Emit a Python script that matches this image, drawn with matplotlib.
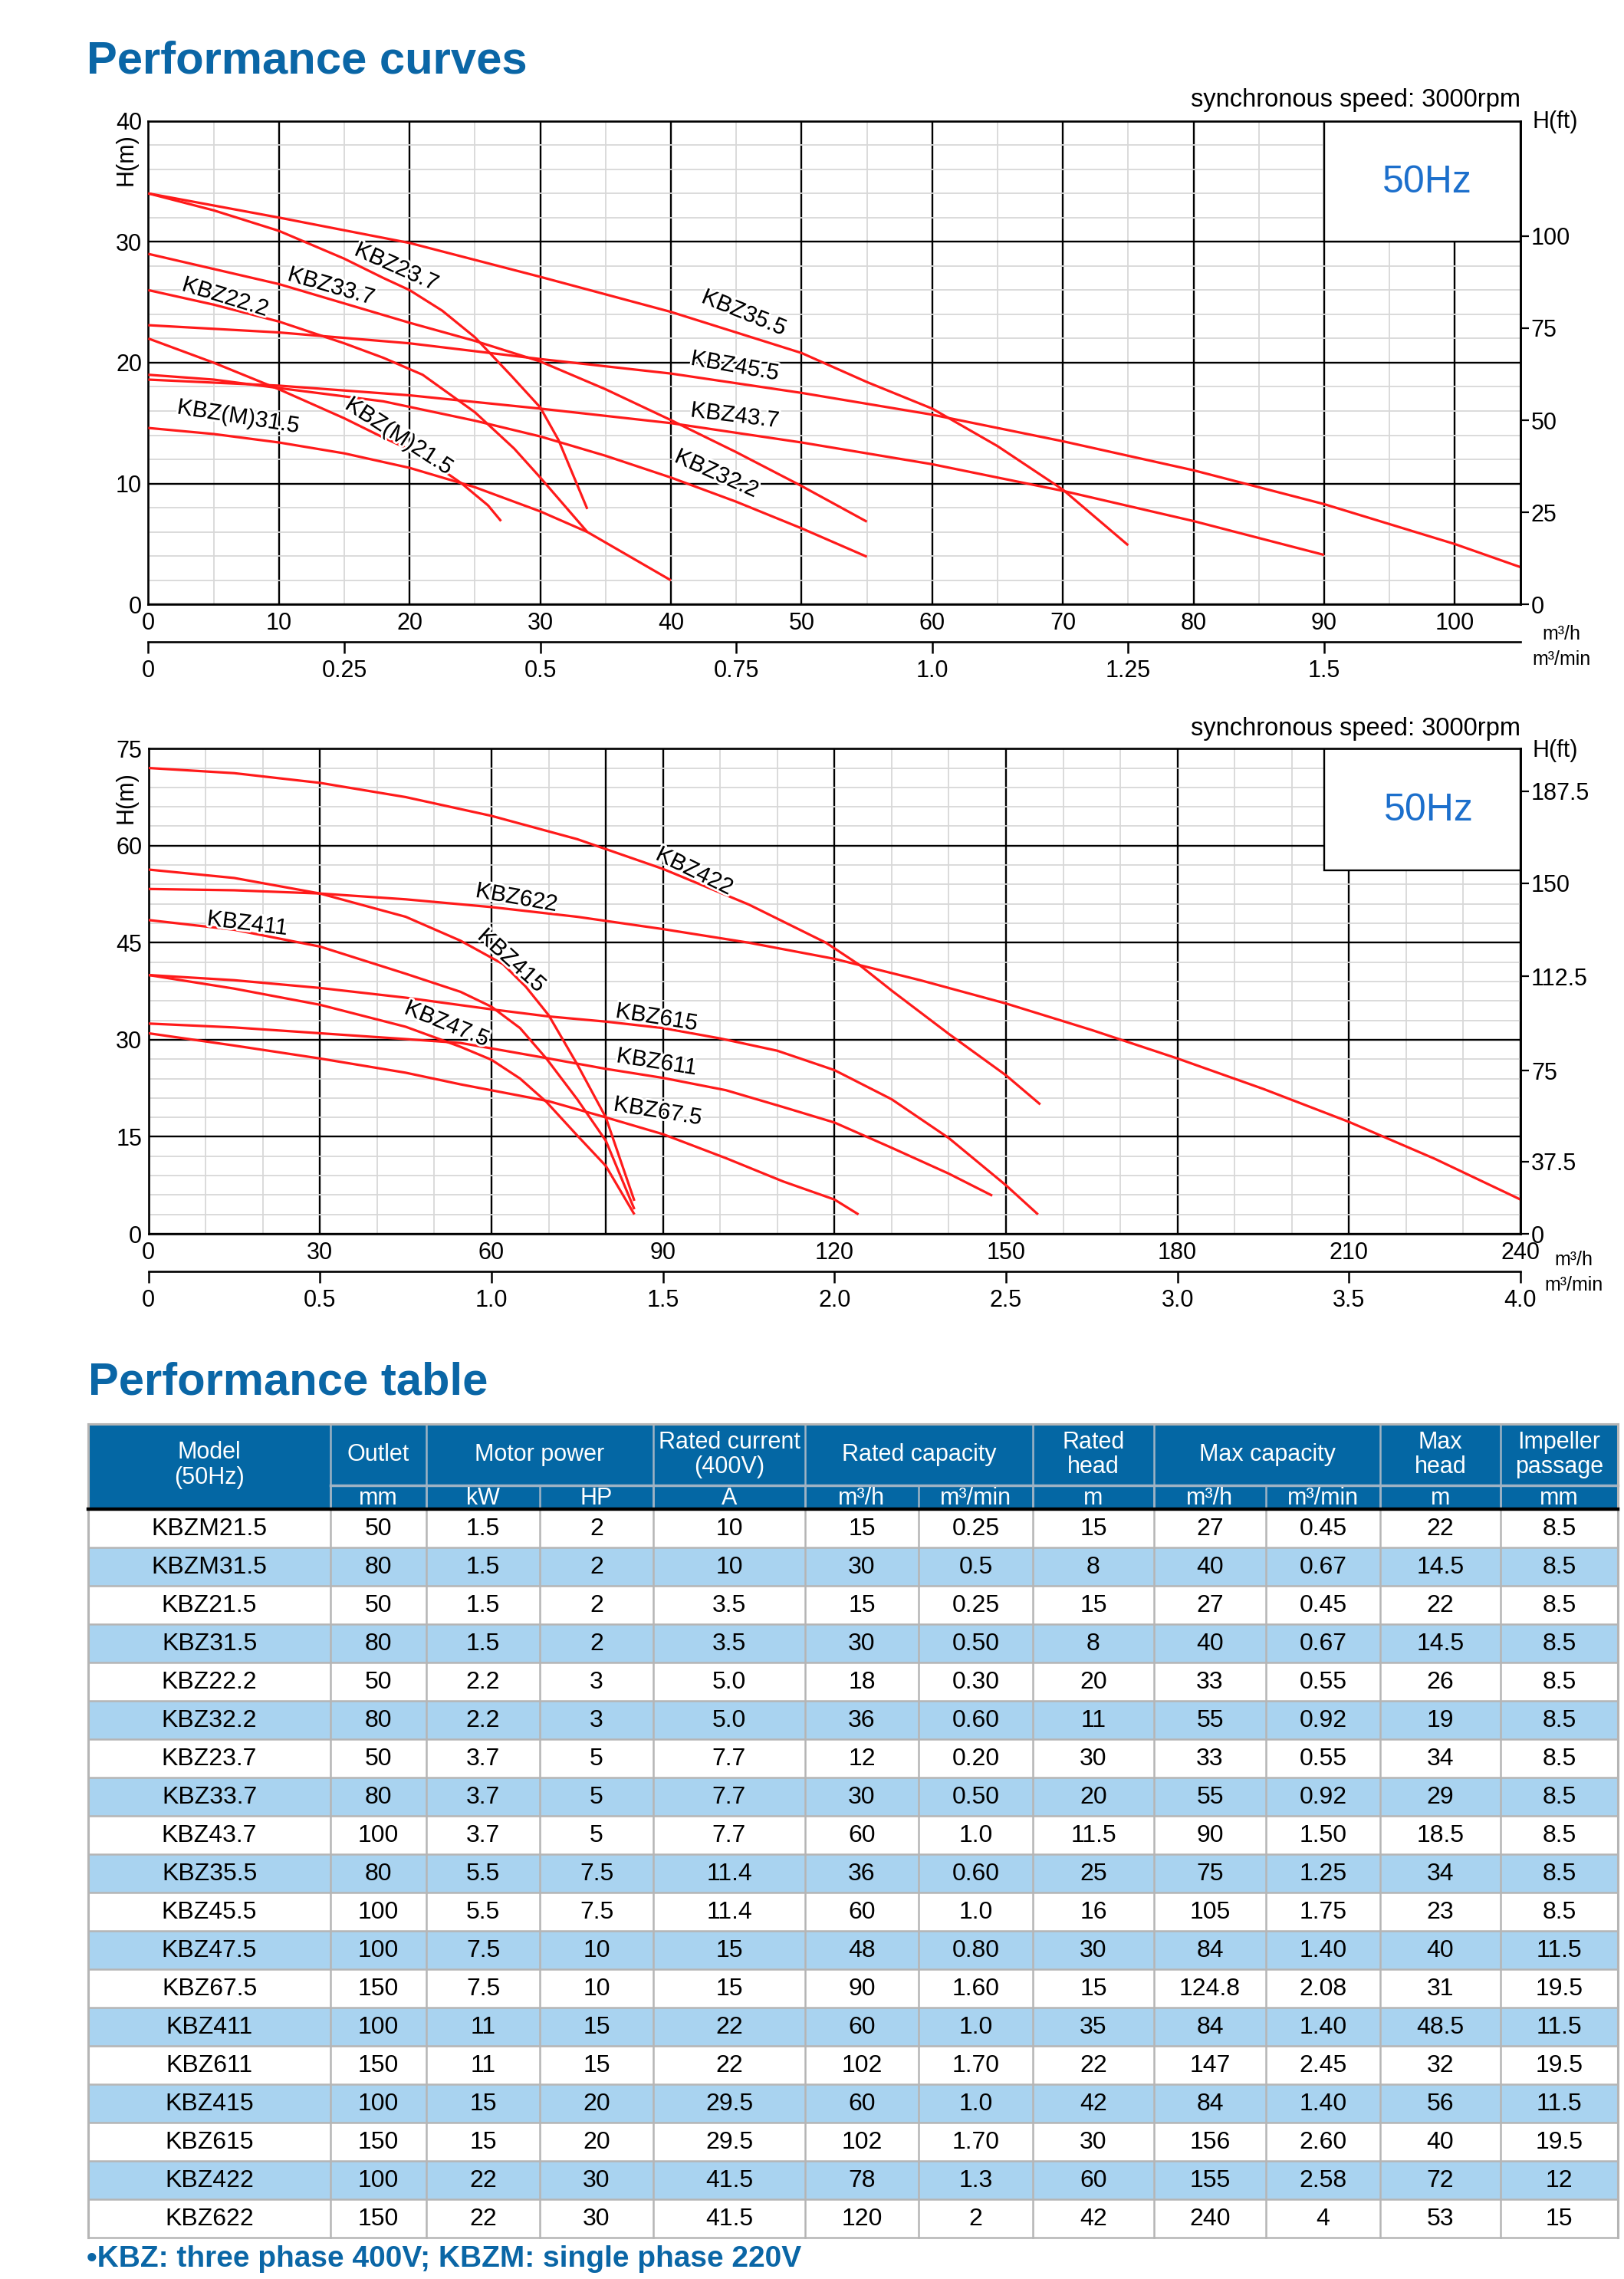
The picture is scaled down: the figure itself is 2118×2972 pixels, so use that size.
import matplotlib
matplotlib.use('Agg')
import matplotlib.pyplot as plt
from matplotlib.patches import Rectangle
import matplotlib.patheffects as pe

plt.rcParams['font.family'] = ['Liberation Sans', 'DejaVu Sans']

# ---------------- data: top chart (Q m3/h, H m) ----------------
kbz35_5_q = [0, 10, 20, 30, 40, 50, 55, 60, 65, 70, 75]
kbz35_5_h = [34, 32.0, 29.9, 27.1, 24.2, 20.8, 18.4, 16.2, 13.1, 9.5, 4.9]
kbz23_7_q = [0, 5, 10, 15, 18, 20, 22.5, 25, 27.8, 30, 31.4, 33.6]
kbz23_7_h = [34, 32.6, 30.9, 28.6, 27.0, 26.0, 24.3, 22.1, 18.9, 16.3, 13.6, 7.9]
kbz33_7_q = [0, 10, 20, 25, 30, 35, 40, 45, 50, 55]
kbz33_7_h = [29, 26.5, 23.3, 21.8, 20.1, 17.8, 15.25, 12.6, 9.8, 6.85]
kbz22_2_q = [0, 5, 10, 15, 18, 21, 25, 28, 30, 33.6]
kbz22_2_h = [26, 24.8, 23.4, 21.6, 20.4, 19.0, 15.9, 12.9, 10.5, 6.0]
kbzm21_5_q = [0, 5, 10, 15, 18, 20, 22, 24, 26, 27]
kbzm21_5_h = [22, 20.0, 17.8, 15.4, 13.8, 12.8, 11.5, 10.0, 8.2, 6.9]
kbzm31_5_q = [0, 5, 10, 15, 20, 25, 30, 33.6, 40]
kbzm31_5_h = [14.6, 14.1, 13.4, 12.5, 11.3, 9.7, 7.7, 6.0, 2.0]
kbz43_7_q = [0, 10, 20, 30, 40, 50, 60, 70, 80, 90]
kbz43_7_h = [18.6, 18.1, 17.3, 16.2, 15.0, 13.4, 11.6, 9.4, 6.9, 4.1]
kbz32_2_q = [0, 5, 10, 18, 25, 30, 35, 40, 45, 50, 55]
kbz32_2_h = [19, 18.6, 17.9, 16.8, 15.2, 13.9, 12.3, 10.5, 8.5, 6.3, 3.95]
kbz45_5_q = [0, 10, 20, 30, 40, 50, 60, 70, 80, 90, 100, 105]
kbz45_5_h = [23.1, 22.5, 21.6, 20.3, 19.1, 17.5, 15.7, 13.5, 11.1, 8.3, 5.0, 3.1]

top_curves = [(kbz35_5_q, kbz35_5_h), (kbz23_7_q, kbz23_7_h), (kbz33_7_q, kbz33_7_h),
              (kbz22_2_q, kbz22_2_h), (kbzm21_5_q, kbzm21_5_h), (kbzm31_5_q, kbzm31_5_h),
              (kbz43_7_q, kbz43_7_h), (kbz32_2_q, kbz32_2_h), (kbz45_5_q, kbz45_5_h)]
top_labels = ['KBZ23.7', 'KBZ33.7', 'KBZ22.2', 'KBZ35.5', 'KBZ45.5', 'KBZ43.7',
              'KBZ32.2', 'KBZ(M)31.5', 'KBZ(M)21.5']
top_label_x = [19.0, 14.0, 5.9, 45.6, 44.9, 44.9, 43.5, 6.9, 19.2]
top_label_y = [27.9, 26.3, 25.4, 24.1, 19.7, 15.6, 10.8, 15.5, 13.9]
top_label_rot = [-24, -16, -17, -22, -10, -7, -24, -9, -33]

top_q_ticks = [0, 10, 20, 30, 40, 50, 60, 70, 80, 90, 100]
top_h_ticks = [0, 10, 20, 30, 40]
top_ft_labels = ['0', '25', '50', '75', '100']
top_ft_values = [0, 25, 50, 75, 100]
top_min_labels = ['0', '0.25', '0.5', '0.75', '1.0', '1.25', '1.5']
top_min_values = [0, 0.25, 0.5, 0.75, 1.0, 1.25, 1.5]

# ---------------- data: bottom chart ----------------
kbz422_q = [0, 15, 30, 45, 60, 75, 90, 105, 118.5, 124.3, 130, 140, 150, 156]
kbz422_h = [72, 71.2, 69.7, 67.5, 64.6, 61.0, 56.4, 50.9, 45.0, 41.6, 37.6, 30.9, 24.5, 20.0]
kbz622_q = [0, 15, 30, 45, 60, 75, 90, 105, 120, 135, 150, 165, 180, 195, 210, 225, 240]
kbz622_h = [53.3, 53.1, 52.6, 51.7, 50.5, 49.0, 47.1, 45.0, 42.5, 39.2, 35.6, 31.5, 27.1,
            22.4, 17.3, 11.6, 5.3]
kbz415_q = [0, 15, 30, 45, 54.6, 62, 66, 70, 75, 80, 85]
kbz415_h = [56.3, 55.0, 52.6, 49.0, 45.3, 41.7, 38.2, 33.8, 26.2, 18.0, 5.1]
kbz411_q = [0, 15, 30, 45, 54.6, 60, 65, 69.6, 75, 80, 85]
kbz411_h = [48.5, 47.0, 44.4, 40.2, 37.4, 35.1, 31.8, 27.1, 20.8, 14.4, 3.8]
kbz615_q = [0, 15, 30, 45, 60, 70, 80, 90, 100, 110, 120, 130, 140, 150, 155.6]
kbz615_h = [40, 39.2, 38.0, 36.5, 34.7, 33.6, 32.8, 31.8, 30.2, 28.3, 25.3, 20.8, 14.8, 7.5, 3.0]
kbz611_q = [0, 15, 30, 45, 54.6, 70, 80, 90, 101, 111, 120, 130, 140, 147.6]
kbz611_h = [32.5, 31.9, 31.0, 30.1, 29.5, 27.1, 25.5, 24.1, 22.2, 19.6, 17.2, 13.3, 9.3, 5.9]
kbz67_5_q = [0, 15, 30, 45, 54.6, 70, 80, 90, 101, 111, 120, 124.2]
kbz67_5_h = [31, 29.1, 27.1, 24.9, 23.1, 20.5, 18.0, 15.4, 11.7, 8.1, 5.3, 3.0]
kbz47_5_q = [0, 15, 30, 45, 54.6, 60, 65, 69.6, 75, 80, 85]
kbz47_5_h = [40, 37.9, 35.4, 32.0, 28.9, 26.9, 24.0, 20.4, 15.2, 10.5, 3.0]

bot_curves = [(kbz422_q, kbz422_h), (kbz622_q, kbz622_h), (kbz415_q, kbz415_h),
              (kbz411_q, kbz411_h), (kbz615_q, kbz615_h), (kbz611_q, kbz611_h),
              (kbz67_5_q, kbz67_5_h), (kbz47_5_q, kbz47_5_h)]
bot_labels = ['KBZ422', 'KBZ622', 'KBZ411', 'KBZ415', 'KBZ47.5', 'KBZ615', 'KBZ611', 'KBZ67.5']
bot_label_x = [95.5, 64.4, 17.3, 63.5, 52.2, 88.9, 88.9, 89.1]
bot_label_y = [56.0, 51.9, 47.9, 42.2, 32.4, 33.4, 26.5, 18.9]
bot_label_rot = [-26, -10, -7, -42, -22, -9, -9, -9]

bot_q_ticks = [0, 30, 60, 90, 120, 150, 180, 210, 240]
bot_h_ticks = [0, 15, 30, 45, 60, 75]
bot_ft_labels = ['0', '37.5', '75', '112.5', '150', '187.5']
bot_ft_pos_m = [0, 11.2, 25.2, 39.8, 54.2, 68.4]
bot_min_labels = ['0', '0.5', '1.0', '1.5', '2.0', '2.5', '3.0', '3.5', '4.0']
bot_min_values = [0, 0.5, 1.0, 1.5, 2.0, 2.5, 3.0, 3.5, 4.0]

# ---------------- data: table ----------------
models = ['KBZM21.5', 'KBZM31.5', 'KBZ21.5', 'KBZ31.5', 'KBZ22.2', 'KBZ32.2', 'KBZ23.7',
          'KBZ33.7', 'KBZ43.7', 'KBZ35.5', 'KBZ45.5', 'KBZ47.5', 'KBZ67.5', 'KBZ411',
          'KBZ611', 'KBZ415', 'KBZ615', 'KBZ422', 'KBZ622']
outlet = ['50', '80', '50', '80', '50', '80', '50', '80', '100', '80', '100', '100', '150',
          '100', '150', '100', '150', '100', '150']
power_kw = ['1.5', '1.5', '1.5', '1.5', '2.2', '2.2', '3.7', '3.7', '3.7', '5.5', '5.5', '7.5',
            '7.5', '11', '11', '15', '15', '22', '22']
power_hp = ['2', '2', '2', '2', '3', '3', '5', '5', '5', '7.5', '7.5', '10', '10', '15', '15',
            '20', '20', '30', '30']
current_a = ['10', '10', '3.5', '3.5', '5.0', '5.0', '7.7', '7.7', '7.7', '11.4', '11.4', '15',
             '15', '22', '22', '29.5', '29.5', '41.5', '41.5']
rated_q_h = ['15', '30', '15', '30', '18', '36', '12', '30', '60', '36', '60', '48', '90', '60',
             '102', '60', '102', '78', '120']
rated_q_min = ['0.25', '0.5', '0.25', '0.50', '0.30', '0.60', '0.20', '0.50', '1.0', '0.60',
               '1.0', '0.80', '1.60', '1.0', '1.70', '1.0', '1.70', '1.3', '2']
rated_head = ['15', '8', '15', '8', '20', '11', '30', '20', '11.5', '25', '16', '30', '15',
              '35', '22', '42', '30', '60', '42']
max_q_h = ['27', '40', '27', '40', '33', '55', '33', '55', '90', '75', '105', '84', '124.8',
           '84', '147', '84', '156', '155', '240']
max_q_min = ['0.45', '0.67', '0.45', '0.67', '0.55', '0.92', '0.55', '0.92', '1.50', '1.25',
             '1.75', '1.40', '2.08', '1.40', '2.45', '1.40', '2.60', '2.58', '4']
max_head = ['22', '14.5', '22', '14.5', '26', '19', '34', '29', '18.5', '34', '23', '40', '31',
            '48.5', '32', '56', '40', '72', '53']
impeller = ['8.5', '8.5', '8.5', '8.5', '8.5', '8.5', '8.5', '8.5', '8.5', '8.5', '8.5', '11.5',
            '19.5', '11.5', '19.5', '11.5', '19.5', '12', '15']
header_main = ['Model\n(50Hz)', 'Outlet', 'Motor power', 'Rated current\n(400V)',
               'Rated capacity', 'Rated\nhead', 'Max capacity', 'Max\nhead', 'Impeller\npassage']
header_units = ['', 'mm', 'kW', 'HP', 'A', 'm³/h', 'm³/min', 'm', 'm³/h', 'm³/min', 'm', 'mm']

# ---------------- layout ----------------
W, H = 2118, 2972
DPI = 100
fig = plt.figure(figsize=(W / DPI, H / DPI), dpi=DPI)
fig.patch.set_facecolor('white')

BLUE_T = '#0a66a6'
HEAD_BLUE = '#0467a4'
LIGHT = '#a9d3f0'
RED = '#ff1a1a'
HZ_BLUE = '#1c6fcc'
FS = 22


def px_axes(l, r, t, b, **kw):
    return fig.add_axes([l / W, 1 - b / H, (r - l) / W, (b - t) / H], **kw)


def ftext(x, y, s, **kw):
    return fig.text(x / W, 1 - y / H, s, **kw)


def style_chart(ax, xmax, ymax, xmaj, xmin, ymaj, ymin, extra_v=None):
    ax.set_xlim(0, xmax)
    ax.set_ylim(0, ymax)
    ax.set_xticks(xmaj)
    ax.set_xticklabels([str(v) for v in xmaj])
    ax.set_xticks(xmin, minor=True)
    ax.set_yticks(ymaj)
    ax.set_yticklabels([str(v) for v in ymaj])
    ax.set_yticks(ymin, minor=True)
    ax.set_axisbelow(True)
    ax.grid(which='minor', color='#d8d8d8', lw=1.3)
    ax.grid(which='major', color='black', lw=1.7)
    if extra_v is not None:
        ax.axvline(extra_v, color='black', lw=1.7, zorder=0.6)
    ax.tick_params(which='both', length=0, labelsize=FS)
    ax.tick_params(axis='x', pad=7)
    ax.tick_params(axis='y', pad=6)
    ax.xaxis.label.set_visible(False)
    ax.yaxis.label.set_visible(False)
    for s in ax.spines.values():
        s.set_linewidth(1.9)
        s.set_color('black')


def draw_chart(ax, curves, labels, lx, ly, lrot):
    for q, h in curves:
        ax.plot(q, h, color=RED, lw=2.3, zorder=3, solid_capstyle='butt',
                solid_joinstyle='round')
    for s, x, y, r in zip(labels, lx, ly, lrot):
        ax.text(x, y, s, rotation=r, rotation_mode='anchor', ha='center', va='center',
                fontsize=21.5, color='black', zorder=4,
                path_effects=[pe.withStroke(linewidth=4, foreground='white')])


def right_axis(ax, pos, labels):
    axr = ax.twinx()
    axr.set_ylim(ax.get_ylim())
    axr.set_yticks(pos)
    axr.set_yticklabels(labels)
    axr.tick_params(axis='y', direction='out', length=8, width=1.6, pad=2, labelsize=FS)
    axr.yaxis.label.set_visible(False)
    axr.xaxis.label.set_visible(False)
    for k in ['left', 'top', 'bottom']:
        axr.spines[k].set_visible(False)
    axr.spines['right'].set_linewidth(1.9)
    return axr


def min_axis(ax, loc, values, labels):
    sec = ax.secondary_xaxis(loc, functions=(lambda q: q / 60.0, lambda m: m * 60.0))
    sec.set_xticks(values)
    sec.set_xticklabels(labels)
    sec.tick_params(axis='x', direction='out', length=11, width=1.8, pad=6, labelsize=FS)
    sec.spines['bottom'].set_linewidth(1.9)
    sec.xaxis.label.set_visible(False)
    return sec


# ---- top chart ----
ax1 = px_axes(193.4, 1982.5, 157.6, 788.3)
style_chart(ax1, 105, 40, top_q_ticks, list(range(5, 106, 10)), top_h_ticks,
            [v for v in range(2, 40, 2) if v % 10 != 0])
ax1.add_patch(Rectangle((90, 30), 15, 10, facecolor='white', edgecolor='black', lw=1.7, zorder=1))
ax1.text(97.9, 34.9, '50Hz', ha='center', va='center', fontsize=36, color=HZ_BLUE, zorder=5)
draw_chart(ax1, top_curves, top_labels, top_label_x, top_label_y, top_label_rot)
right_axis(ax1, [v * 0.3048 for v in top_ft_values], top_ft_labels)
min_axis(ax1, -(836.6 - 788.3) / 630.7, top_min_values, top_min_labels)

# ---- bottom chart ----
ax2 = px_axes(193.6, 1983.0, 976.2, 1609.0)
style_chart(ax2, 240, 75, bot_q_ticks, [v for v in range(10, 240, 10) if v % 30 != 0],
            bot_h_ticks, [v for v in range(3, 75, 3) if v % 15 != 0], extra_v=80)
ax2.add_patch(Rectangle((205.6, 56.2), 34.4, 18.8, facecolor='white', edgecolor='black',
                        lw=1.7, zorder=1))
ax2.text(223.9, 65.4, '50Hz', ha='center', va='center', fontsize=36, color=HZ_BLUE, zorder=5)
draw_chart(ax2, bot_curves, bot_labels, bot_label_x, bot_label_y, bot_label_rot)
right_axis(ax2, bot_ft_pos_m, bot_ft_labels)
min_axis(ax2, -(1657.8 - 1609.0) / 632.8, bot_min_values, bot_min_labels)

# ---- chart texts ----
ftext(113, 80, 'Performance curves', fontsize=43, fontweight='bold', color=BLUE_T,
      ha='left', va='center')
for (ys, yft, yhm, yu1, yu2, xu) in [(131, 159, 208, 827, 860, 2036),
                                      (950, 979, 1040, 1643, 1676, 2052)]:
    ftext(1983, ys, 'synchronous speed: 3000rpm', fontsize=23.5, ha='right', va='center')
    ftext(2028, yft, 'H(ft)', fontsize=FS, ha='center', va='center')
    ftext(165, yhm, 'H(m)', fontsize=FS, ha='center', va='center', rotation=90)
    ftext(xu, yu1, 'm³/h', fontsize=18, ha='center', va='center')
    ftext(xu, yu2, 'm³/min', fontsize=18, ha='center', va='center')

# ---------------- table ----------------
tab = fig.add_axes([0, 0, 1, 1], zorder=-1)
tab.set_xlim(0, W)
tab.set_ylim(H, 0)
tab.axis('off')

ftext(115, 1803, 'Performance table', fontsize=43, fontweight='bold', color=BLUE_T,
      ha='left', va='center')

col_edges = [115, 431, 556, 704, 852, 1050, 1198, 1347, 1505, 1651, 1800, 1957, 2110]
y_top, y_sub, y_body = 1857, 1937, 1968
row_h = 50
n_rows = len(models)
y_end = y_body + n_rows * row_h
spans = [(0, 1), (1, 2), (2, 4), (4, 5), (5, 7), (7, 8), (8, 10), (10, 11), (11, 12)]

tab.add_patch(Rectangle((col_edges[0], y_top), col_edges[-1] - col_edges[0], y_body - y_top,
                        facecolor=HEAD_BLUE, edgecolor='none'))
sep = '#9fb3c4'
for (a, b), txt in zip(spans, header_main):
    x0, x1 = col_edges[a], col_edges[b]
    if a == 0:
        tab.text((x0 + x1) / 2, (y_top + y_body) / 2 - 2, txt, ha='center', va='center',
                 fontsize=FS, color='white', linespacing=1.1)
    else:
        tab.text((x0 + x1) / 2, (y_top + y_sub) / 2, txt, ha='center', va='center',
                 fontsize=FS, color='white', linespacing=1.1)
    if a > 0:
        tab.plot([x0, x0], [y_top, y_body], color=sep, lw=1.8)
tab.plot([col_edges[1], col_edges[-1]], [y_sub, y_sub], color=sep, lw=2.5)
for i, u in enumerate(header_units):
    if u:
        x0, x1 = col_edges[i], col_edges[i + 1]
        tab.text((x0 + x1) / 2, (y_sub + y_body) / 2 + 1, u, ha='center', va='center',
                 fontsize=FS, color='white')
        tab.plot([x0, x0], [y_sub, y_body], color=sep, lw=1.8)

columns = [models, outlet, power_kw, power_hp, current_a, rated_q_h, rated_q_min, rated_head,
           max_q_h, max_q_min, max_head, impeller]
for r in range(n_rows):
    y0 = y_body + r * row_h
    tab.add_patch(Rectangle((col_edges[0], y0), col_edges[-1] - col_edges[0], row_h,
                            facecolor=('white' if r % 2 == 0 else LIGHT), edgecolor='none'))
    for c, col in enumerate(columns):
        tab.text((col_edges[c] + col_edges[c + 1]) / 2, y0 + row_h / 2 + 1, col[r],
                 ha='center', va='center', fontsize=23, color='black')
grid_c = '#b5b5b5'
for r in range(1, n_rows + 1):
    y = y_body + r * row_h
    tab.plot([col_edges[0], col_edges[-1]], [y, y], color=grid_c, lw=1.8)
for x in col_edges:
    tab.plot([x, x], [y_body, y_end], color=grid_c, lw=1.8)
tab.plot([col_edges[0], col_edges[0]], [y_top, y_end], color=grid_c, lw=2.2)
tab.plot([col_edges[-1], col_edges[-1]], [y_top, y_end], color=grid_c, lw=2.2)
tab.plot([col_edges[0], col_edges[-1]], [y_top, y_top], color=grid_c, lw=2.2)
tab.plot([col_edges[0], col_edges[-1]], [y_body, y_body], color='black', lw=3.2)

ftext(113, 2946, '•KBZ: three phase 400V; KBZM: single phase 220V', fontsize=28,
      fontweight='bold', color=BLUE_T, ha='left', va='center')

fig.savefig('out.png', dpi=DPI, facecolor='white')
